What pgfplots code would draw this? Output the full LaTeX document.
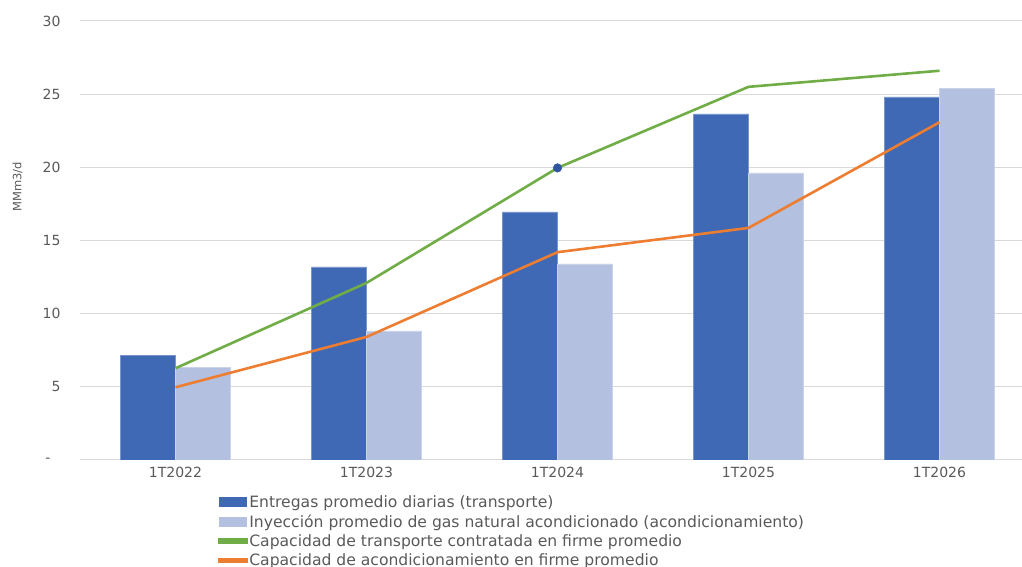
\documentclass[border=0pt]{standalone}
\usepackage{fontspec}
\setmainfont{DejaVu Sans}
\usepackage{pgfplots}
\pgfplotsset{compat=1.18}

\definecolor{barDark}{HTML}{3F69B5}
\definecolor{barLight}{HTML}{B4C0E0}
\definecolor{lnGreen}{HTML}{70AD47}
\definecolor{lnOrange}{HTML}{ED7D31}
\definecolor{dotBlue}{HTML}{2F55A0}
\definecolor{txtGray}{HTML}{595959}
\definecolor{gridGray}{HTML}{D9D9D9}

\begin{document}
\begin{tikzpicture}
\useasboundingbox (0,0) rectangle (1022pt,567pt);
\clip (0,0) rectangle (1022pt,567pt);
\begin{axis}[
    at={(80pt,107pt)}, anchor=south west,
    scale only axis,
    width=955pt, height=439pt,
    xmin=-0.5, xmax=4.5,
    ymin=0, ymax=30,
    xtick={0,1,2,3,4},
    xticklabels={1T2022,1T2023,1T2024,1T2025,1T2026},
    ytick={0,5,10,15,20,25,30},
    yticklabels={-\hspace*{10pt},5,10,15,20,25,30},
    ymajorgrids,
    grid style={gridGray, line width=1pt},
    axis line style={draw=none},
    major tick length=0pt,
    tick label style={font=\fontsize{14}{17}\selectfont, text=txtGray},
    yticklabel style={xshift=-16pt},
    xticklabel style={yshift=-4pt},
    /pgf/number format/assume math mode=true,
    ylabel={MMm3/d},
    ylabel style={font=\fontsize{11.5}{13}\selectfont, text=txtGray,
        at={(rel axis cs:0,0.622)}, anchor=center, yshift=62.5pt},
    legend style={at={(0.1445,-0.077)}, anchor=north west, draw=none,
        fill=none, inner sep=0pt, row sep=2.8pt,
        font=\fontsize{15.6}{19}\selectfont, text=txtGray,
        nodes={inner sep=1.5pt}},
    legend cell align=left,
]
\addplot[ybar, bar width=55pt, bar shift=-27.5pt, fill=barDark, draw=barDark!70!white, line width=0.4pt,
    legend image code/.code={\fill[barDark] (0pt,-4.5pt) rectangle (27pt,4.5pt);}]
    coordinates {(0,7.13) (1,13.19) (2,16.95) (3,23.65) (4,24.82)};
\addlegendentry{Entregas promedio diarias (transporte)}

\addplot[ybar, bar width=55pt, bar shift=27.5pt, fill=barLight, draw=barLight!70!white, line width=0.4pt,
    legend image code/.code={\fill[barLight] (0pt,-4.5pt) rectangle (27pt,4.5pt);}]
    coordinates {(0,6.31) (1,8.82) (2,13.40) (3,19.62) (4,25.41)};
\addlegendentry{Inyección promedio de gas natural acondicionado (acondicionamiento)}

\addplot[lnGreen, line width=2.6pt, mark=none,
    legend image code/.code={\fill[lnGreen] (0pt,-1.4pt) rectangle (27pt,1.4pt);}]
    coordinates {(0,6.27) (1,12.10) (2,19.96) (3,25.50) (4,26.60)};
\addlegendentry{Capacidad de transporte contratada en firme promedio}

\addplot[lnOrange, line width=2.6pt, mark=none,
    legend image code/.code={\fill[lnOrange] (0pt,-1.4pt) rectangle (27pt,1.4pt);}]
    coordinates {(0,4.97) (1,8.41) (2,14.20) (3,15.86) (4,23.08)};
\addlegendentry{Capacidad de acondicionamiento en firme promedio}

\addplot[only marks, mark=*, mark size=4.3pt, color=dotBlue, forget plot]
    coordinates {(2,19.96)};
\end{axis}
\end{tikzpicture}
\end{document}
